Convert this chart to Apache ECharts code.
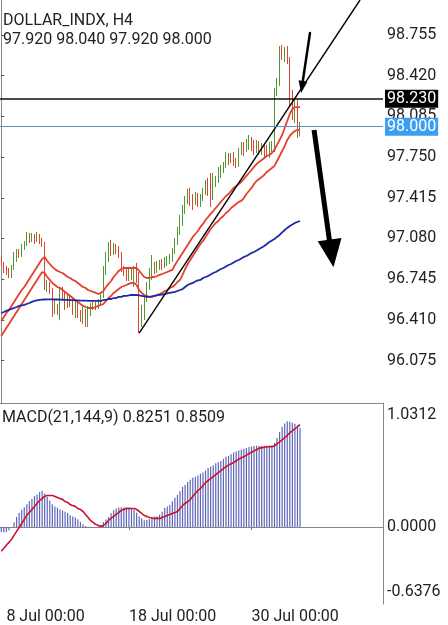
<!DOCTYPE html>
<html><head><meta charset="utf-8">
<script src="https://cdn.jsdelivr.net/npm/echarts@6/dist/echarts.min.js"></script>
<style>html,body{margin:0;padding:0;background:#fff}#c{width:448px;height:625px}</style>
</head><body><div id="c"></div><script>
const symbolName = 'DOLLAR_INDX';
const timeframe = 'H4';
const macdName = 'MACD(21,144,9)';
const tradingDays = ['5 Jul','8 Jul','9 Jul','10 Jul','11 Jul','12 Jul','15 Jul','16 Jul','17 Jul','18 Jul','19 Jul','22 Jul','23 Jul','24 Jul','25 Jul','26 Jul','29 Jul','30 Jul','31 Jul','1 Aug','2 Aug','5 Aug','6 Aug','7 Aug','8 Aug','9 Aug'];
const barHours = ['00:00','04:00','08:00','12:00','16:00','20:00'];
const xTickLabels = ['8 Jul 00:00','18 Jul 00:00','30 Jul 00:00'];
const priceTicks = [96.075,96.410,96.745,97.080,97.415,97.750,98.085,98.420,98.755];
const macdTicks = [-0.6376,0,1.0312];
const priceMin = 95.726, priceMax = 99.043;

// [open, close, low, high]
const candles = [
[96.920,96.870,96.854,96.936],[96.870,96.821,96.796,96.887],[96.837,96.804,96.780,96.854],[96.813,96.780,96.755,96.837],
[96.780,96.837,96.755,96.862],[96.837,96.920,96.821,96.969],[96.920,96.969,96.887,96.994],[96.969,96.944,96.920,96.994],
[96.944,97.010,96.928,97.035],[97.010,97.035,96.986,97.060],[97.035,97.101,97.018,97.134],[97.101,97.068,97.043,97.125],
[97.068,97.101,97.051,97.125],[97.101,97.068,97.035,97.117],[97.068,97.101,97.051,97.134],[97.101,97.060,97.035,97.117],
[97.060,97.035,97.010,97.084],[97.035,96.689,96.656,97.051],[96.673,96.706,96.640,96.739],[96.706,96.656,96.623,96.722],
[96.656,96.492,96.434,96.673],[96.492,96.525,96.459,96.574],[96.525,96.484,96.451,96.541],[96.484,96.640,96.409,96.673],
[96.640,96.615,96.582,96.681],[96.615,96.533,96.492,96.640],[96.533,96.607,96.508,96.632],[96.607,96.558,96.516,96.623],
[96.558,96.492,96.451,96.582],[96.492,96.541,96.426,96.574],[96.541,96.459,96.426,96.558],[96.459,96.426,96.393,96.492],
[96.426,96.475,96.376,96.516],[96.475,96.409,96.352,96.500],[96.409,96.475,96.352,96.525],[96.475,96.516,96.442,96.549],
[96.516,96.533,96.492,96.558],[96.533,96.516,96.492,96.558],[96.516,96.558,96.500,96.582],[96.558,96.607,96.533,96.632],
[96.607,96.804,96.590,96.854],[96.804,96.920,96.780,96.969],[96.920,97.002,96.887,97.051],[97.002,96.969,96.936,97.068],
[96.969,97.010,96.944,97.043],[97.010,96.986,96.953,97.035],[96.986,96.944,96.920,97.018],[96.944,96.837,96.804,96.969],
[96.837,96.804,96.771,96.854],[96.804,96.755,96.730,96.829],[96.755,96.804,96.730,96.837],[96.804,96.771,96.739,96.837],
[96.771,96.813,96.681,96.854],[96.813,96.755,96.714,96.879],[96.755,96.442,96.302,96.804],[96.442,96.492,96.352,96.533],
[96.492,96.590,96.409,96.615],[96.590,96.689,96.558,96.722],[96.689,96.804,96.656,96.837],[96.804,96.837,96.739,96.944],
[96.837,96.821,96.788,96.887],[96.821,96.854,96.796,96.895],[96.854,96.870,96.821,96.903],[96.870,96.854,96.821,96.911],
[96.854,96.887,96.837,96.928],[96.887,96.903,96.854,96.936],[96.903,96.920,96.870,96.953],[96.920,96.969,96.887,97.002],
[96.969,97.051,96.953,97.084],[97.051,97.134,97.027,97.175],[97.134,97.216,97.109,97.274],[97.216,97.315,97.183,97.356],
[97.315,97.397,97.282,97.430],[97.397,97.455,97.364,97.488],[97.455,97.413,97.348,97.496],[97.413,97.381,97.315,97.446],
[97.381,97.422,97.356,97.463],[97.422,97.381,97.340,97.455],[97.381,97.413,97.340,97.446],[97.413,97.463,97.389,97.496],
[97.463,97.521,97.438,97.562],[97.521,97.479,97.430,97.578],[97.479,97.413,97.340,97.619],[97.413,97.545,97.397,97.619],
[97.545,97.562,97.504,97.595],[97.562,97.628,97.537,97.669],[97.628,97.660,97.578,97.685],[97.660,97.685,97.619,97.710],
[97.685,97.751,97.660,97.792],[97.751,97.726,97.685,97.784],[97.726,97.759,97.702,97.784],[97.759,97.710,97.677,97.792],
[97.710,97.693,97.660,97.743],[97.693,97.792,97.669,97.825],[97.792,97.841,97.767,97.874],[97.841,97.809,97.759,97.874],
[97.809,97.858,97.792,97.899],[97.858,97.891,97.809,97.932],[97.891,97.841,97.800,97.916],[97.841,97.809,97.767,97.891],
[97.809,97.850,97.784,97.891],[97.850,97.809,97.767,97.883],[97.809,97.833,97.767,97.866],[97.833,97.792,97.751,97.858],
[97.792,97.784,97.751,97.850],[97.784,97.825,97.743,97.874],[97.825,97.841,97.792,97.883],[97.841,98.286,97.792,98.319],
[98.286,98.368,98.253,98.401],[98.368,98.615,98.335,98.664],[98.615,98.582,98.549,98.673],[98.582,98.632,98.533,98.656],
[98.632,98.549,98.516,98.664],[98.549,98.261,98.162,98.574],[98.261,98.138,98.055,98.302],[98.138,98.195,98.031,98.228],
[98.195,97.920,97.910,98.220],[97.920,98.000,97.920,98.040]
];
const upperBand = [96.401,96.434,96.467,96.492,96.525,96.558,96.590,96.623,96.656,96.681,96.714,96.747,96.780,96.813,96.846,96.879,96.911,96.928,96.895,96.870,
96.846,96.829,96.813,96.804,96.796,96.780,96.763,96.755,96.739,96.730,96.714,96.697,96.681,96.673,96.656,96.648,96.640,96.632,96.623,96.632,
96.648,96.681,96.706,96.730,96.763,96.788,96.813,96.829,96.837,96.837,96.837,96.837,96.837,96.837,96.813,96.788,96.763,96.755,96.755,96.763,
96.763,96.771,96.780,96.788,96.796,96.804,96.813,96.821,96.862,96.895,96.928,96.961,96.994,97.027,97.060,97.093,97.117,97.142,97.175,97.200,
97.232,97.257,97.282,97.306,97.331,97.356,97.381,97.405,97.430,97.446,97.471,97.496,97.512,97.529,97.545,97.570,97.595,97.619,97.644,97.669,
97.693,97.710,97.726,97.743,97.759,97.767,97.784,97.809,97.850,97.891,97.932,97.990,98.047,98.105,98.146,98.162,98.162,98.162];
const lowerBand = [96.278,96.311,96.344,96.376,96.409,96.442,96.475,96.508,96.541,96.574,96.607,96.640,96.673,96.706,96.739,96.771,96.804,96.796,96.763,96.739,
96.714,96.697,96.681,96.673,96.656,96.640,96.623,96.607,96.590,96.574,96.558,96.541,96.525,96.516,96.508,96.508,96.508,96.516,96.525,96.533,
96.541,96.566,96.590,96.607,96.632,96.648,96.664,96.681,96.689,96.697,96.706,96.714,96.714,96.697,96.656,96.632,96.615,96.607,96.599,96.599,
96.607,96.615,96.623,96.632,96.648,96.656,96.673,96.681,96.697,96.722,96.739,96.780,96.829,96.870,96.903,96.936,96.969,97.002,97.035,97.060,
97.093,97.125,97.158,97.183,97.208,97.224,97.249,97.265,97.290,97.306,97.331,97.348,97.364,97.381,97.389,97.413,97.446,97.471,97.496,97.529,
97.553,97.570,97.586,97.603,97.628,97.644,97.660,97.677,97.718,97.759,97.800,97.841,97.891,97.924,97.948,97.965,97.973,97.973];
const maLong = [96.467,96.475,96.484,96.492,96.500,96.508,96.516,96.525,96.529,96.533,96.541,96.549,96.558,96.566,96.570,96.574,96.576,96.578,96.579,96.579,
96.579,96.578,96.578,96.577,96.576,96.575,96.574,96.573,96.572,96.571,96.570,96.569,96.568,96.568,96.567,96.567,96.566,96.566,96.566,96.566,
96.574,96.574,96.582,96.582,96.590,96.590,96.599,96.599,96.607,96.607,96.611,96.615,96.615,96.615,96.611,96.607,96.603,96.599,96.599,96.603,
96.607,96.611,96.615,96.619,96.623,96.628,96.632,96.636,96.640,96.648,96.656,96.664,96.681,96.697,96.706,96.714,96.726,96.735,96.739,96.755,
96.763,96.771,96.784,96.796,96.804,96.817,96.829,96.837,96.850,96.862,96.870,96.883,96.895,96.903,96.915,96.928,96.936,96.948,96.961,96.969,
96.981,96.994,97.006,97.018,97.035,97.051,97.064,97.076,97.093,97.109,97.130,97.150,97.167,97.183,97.195,97.208,97.216,97.224];
const macdHist = [-0.040,-0.045,-0.040,-0.025,-0.005,0.040,0.085,0.120,0.145,0.165,0.190,0.215,0.235,0.258,0.272,0.292,0.302,0.280,0.252,0.222,
0.190,0.172,0.162,0.148,0.140,0.128,0.117,0.100,0.088,0.080,0.066,0.045,0.025,0.010,0.004,0.003,-0.003,0.002,0.005,0.020,
0.042,0.064,0.085,0.115,0.140,0.155,0.163,0.165,0.164,0.165,0.163,0.155,0.145,0.120,0.090,0.075,0.058,0.060,0.065,0.075,
0.089,0.090,0.104,0.128,0.160,0.172,0.185,0.215,0.245,0.268,0.300,0.335,0.350,0.375,0.395,0.410,0.418,0.430,0.445,0.455,
0.470,0.492,0.502,0.515,0.530,0.540,0.550,0.568,0.584,0.593,0.607,0.620,0.630,0.637,0.644,0.651,0.658,0.665,0.670,0.674,
0.676,0.676,0.676,0.677,0.677,0.678,0.682,0.700,0.740,0.790,0.833,0.862,0.880,0.878,0.868,0.858,0.845,0.8251];
const macdSignal = [-0.200,-0.175,-0.150,-0.126,-0.101,-0.068,-0.035,-0.002,0.031,0.064,0.098,0.122,0.147,0.172,0.197,0.221,0.238,0.255,0.263,0.263,
0.263,0.255,0.246,0.238,0.230,0.213,0.205,0.188,0.180,0.172,0.155,0.147,0.131,0.106,0.081,0.056,0.040,0.023,0.015,0.007,
0.015,0.031,0.056,0.073,0.089,0.106,0.122,0.139,0.147,0.155,0.155,0.155,0.155,0.147,0.131,0.114,0.098,0.089,0.081,0.077,
0.073,0.073,0.073,0.081,0.089,0.098,0.106,0.114,0.122,0.131,0.155,0.180,0.197,0.213,0.230,0.255,0.279,0.304,0.321,0.345,
0.370,0.387,0.403,0.420,0.436,0.453,0.469,0.486,0.502,0.515,0.527,0.536,0.552,0.564,0.577,0.585,0.598,0.610,0.622,0.635,
0.643,0.655,0.660,0.664,0.668,0.668,0.668,0.676,0.693,0.709,0.726,0.742,0.763,0.783,0.800,0.817,0.833,0.8509];
const horizontalLevel = 98.230;
const currentPrice = 98.000;
// drawn objects, in [bar index, price]
const trendLine = [[54, 96.302], [140.5, 99.043]];
const arrowThinShaft = [[120.9, 98.771], [117.8, 98.335]];
const arrowThinHead = [[117.8, 98.327]];
const arrowThickShaft = [[122.5, 97.973], [128.76, 97.027]];
const arrowThickHead = [[129.35, 96.957]];

const categories = [];
tradingDays.forEach((d, di) => barHours.forEach((h, hi) => {
  if (di === 0 && hi < 4) return;
  categories.push(d + ' ' + h);
}));
const cats = categories.slice(0, 150);
const last = candles[candles.length - 1];
const isTick = (i, v) => xTickLabels.indexOf(v) >= 0;
const FONT = 'Roboto';
const TXT = '#222';
const GREEN = '#4e9a2e', RED = '#e0422f';
const titleStyle = {fontSize: 16, fontWeight: 'normal', color: TXT, fontFamily: FONT};

const chart = echarts.init(document.getElementById('c'), null, {renderer: 'canvas'});
chart.setOption({
  animation: false,
  backgroundColor: '#fff',
  textStyle: {fontFamily: FONT},
  title: [
    {text: symbolName + ', ' + timeframe, left: 3, top: 13, padding: 0, textStyle: titleStyle},
    {text: [last[0], last[3], last[2], last[1]].map(v => v.toFixed(3)).join(' '), left: 3, top: 32, padding: 0, textStyle: titleStyle},
    {text: macdName + ' ' + macdHist[macdHist.length-1].toFixed(4) + ' ' + macdSignal[macdSignal.length-1].toFixed(4), left: 2, top: 410, padding: 0, textStyle: titleStyle}
  ],
  grid: [
    {left: 0, right: 65, top: 0, height: 403},
    {left: 0, right: 65, top: 403, height: 202}
  ],
  xAxis: [
    {type: 'category', gridIndex: 0, data: cats, boundaryGap: true,
     axisLine: {show: true, lineStyle: {color: '#888', width: 1}}, axisTick: {show: false}, axisLabel: {show: false}, splitLine: {show: false}},
    {type: 'category', gridIndex: 1, data: cats, boundaryGap: true,
     axisLine: {show: true, lineStyle: {color: '#888', width: 1}},
     axisTick: {show: true, interval: isTick, alignWithLabel: true, length: 3, lineStyle: {color: '#888'}},
     axisLabel: {interval: isTick, align: 'left', margin: 5, fontSize: 16, color: TXT, fontFamily: FONT},
     splitLine: {show: false}},
    {type: 'value', gridIndex: 0, min: -0.5, max: 149.5, show: false}
  ],
  yAxis: [
    {type: 'value', gridIndex: 0, position: 'right', min: priceMin, max: priceMax,
     axisLine: {show: true, lineStyle: {color: '#888'}},
     axisTick: {show: true, customValues: priceTicks, length: 3, lineStyle: {color: '#555'}},
     axisLabel: {customValues: priceTicks, formatter: v => v.toFixed(3), margin: 4, fontSize: 16, color: TXT, fontFamily: FONT},
     splitLine: {show: false}},
    {type: 'value', gridIndex: 1, position: 'right', min: macdTicks[0], max: macdTicks[2],
     axisLine: {show: true, lineStyle: {color: '#888'}},
     axisTick: {show: false},
     axisLabel: {customValues: macdTicks, margin: 4, fontSize: 16, color: TXT, fontFamily: FONT,
       formatter: v => v === macdTicks[2] ? '{t|' + v.toFixed(4) + '}' : (v === macdTicks[0] ? '{b|' + v.toFixed(4) + '}' : v.toFixed(4)),
       rich: {t: {padding: [23, 0, 0, 0], fontSize: 16, color: TXT, fontFamily: FONT}, b: {padding: [0, 0, 24, 0], fontSize: 16, color: TXT, fontFamily: FONT}}},
     splitLine: {show: false}}
  ],
  series: [
    {type: 'candlestick', xAxisIndex: 0, yAxisIndex: 0, data: candles, barWidth: 1,
     itemStyle: {color: GREEN, color0: RED, borderColor: GREEN, borderColor0: RED, borderWidth: 1},
     markLine: {silent: true, symbol: 'none', animation: false,
       data: [
         {yAxis: horizontalLevel, lineStyle: {color: '#111', width: 1.5, type: 'solid'},
          label: {show: true, position: 'end', distance: 2, formatter: p => p.value.toFixed(3), color: '#fff', backgroundColor: '#000', padding: [1, 2, 0, 2], fontSize: 16, lineHeight: 17, fontFamily: FONT}},
         {yAxis: currentPrice, lineStyle: {color: '#5f8fbd', width: 1, type: 'solid'},
          label: {show: true, position: 'end', distance: 2, formatter: p => p.value.toFixed(3), color: '#fff', backgroundColor: '#3d9df2', padding: [1, 2, 0, 2], fontSize: 16, lineHeight: 17, fontFamily: FONT}}
       ]}},
    {type: 'line', xAxisIndex: 0, yAxisIndex: 0, data: upperBand, symbol: 'none', lineStyle: {color: '#e4412d', width: 1.8}},
    {type: 'line', xAxisIndex: 0, yAxisIndex: 0, data: lowerBand, symbol: 'none', lineStyle: {color: '#e4412d', width: 1.8}},
    {type: 'line', xAxisIndex: 0, yAxisIndex: 0, data: maLong, symbol: 'none', lineStyle: {color: '#1c2ba5', width: 1.8}},
    {type: 'line', xAxisIndex: 2, yAxisIndex: 0, data: trendLine, symbol: 'none', lineStyle: {color: '#000', width: 1.4}},
    {type: 'line', xAxisIndex: 2, yAxisIndex: 0, data: arrowThinShaft, symbol: 'none', lineStyle: {color: '#000', width: 2.5, cap: 'round'}},
    {type: 'scatter', xAxisIndex: 2, yAxisIndex: 0, data: arrowThinHead, symbol: 'triangle', symbolSize: [9, 12], symbolRotate: 171, itemStyle: {color: '#000', opacity: 1}},
    {type: 'line', xAxisIndex: 2, yAxisIndex: 0, data: arrowThickShaft, symbol: 'none', lineStyle: {color: '#000', width: 5}},
    {type: 'scatter', xAxisIndex: 2, yAxisIndex: 0, data: arrowThickHead, symbol: 'triangle', symbolSize: [24, 28], symbolRotate: 188, itemStyle: {color: '#000', opacity: 1}},
    {type: 'bar', xAxisIndex: 1, yAxisIndex: 1, data: macdHist, barWidth: 1.2, itemStyle: {color: '#5e66b8'}},
    {type: 'line', xAxisIndex: 1, yAxisIndex: 1, data: macdSignal, symbol: 'none', smooth: true, lineStyle: {color: '#cc1030', width: 1.6}}
  ]
});
</script></body></html>
